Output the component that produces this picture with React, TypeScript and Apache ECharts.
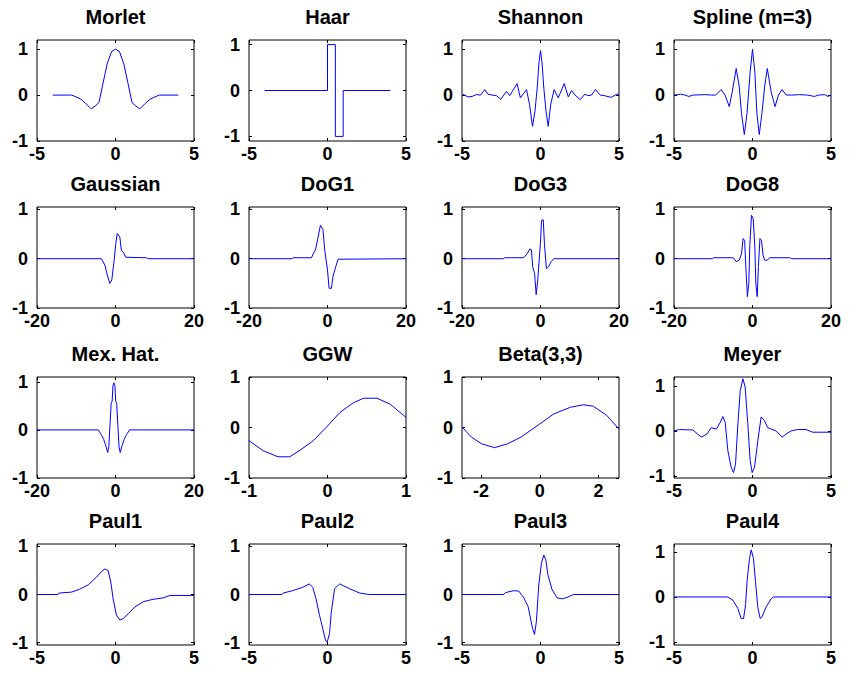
import React, { useEffect, useRef } from 'react';
import * as echarts from 'echarts';

const titles = ['Morlet', 'Haar', 'Shannon', 'Spline (m=3)', 'Gaussian', 'DoG1', 'DoG3', 'DoG8', 'Mex. Hat.', 'GGW', 'Beta(3,3)', 'Meyer', 'Paul1', 'Paul2', 'Paul3', 'Paul4'];
const xMins = [-5, -5, -5, -5, -20, -20, -20, -20, -20, -1, -2.65, -5, -5, -5, -5, -5];
const xMaxs = [5, 5, 5, 5, 20, 20, 20, 20, 20, 1, 2.7, 5, 5, 5, 5, 5];
const xTicks = [
  [-5, 0, 5], [-5, 0, 5], [-5, 0, 5], [-5, 0, 5],
  [-20, 0, 20], [-20, 0, 20], [-20, 0, 20], [-20, 0, 20],
  [-20, 0, 20], [-1, 0, 1], [-2, 0, 2], [-5, 0, 5],
  [-5, 0, 5], [-5, 0, 5], [-5, 0, 5], [-5, 0, 5],
];
const yMins = [-1, -1.1, -1, -1, -1, -1, -1, -1, -1, -1, -1, -1.05, -1.05, -1.05, -1.05, -1.07];
const yMaxs = [1.2, 1.1, 1.2, 1.2, 1.05, 1.05, 1.05, 1.05, 1.1, 1, 1, 1.2, 1.05, 1.05, 1.05, 1.18];
const yTicks = [-1, 0, 1];

const morlet = [[-4, 0], [-2.8, 0], [-2.5, -0.04], [-2.2, -0.09], [-1.9, -0.18], [-1.55, -0.3], [-1.3, -0.24], [-1.05, -0.16], [-0.8, 0.25], [-0.53, 0.68], [-0.25, 0.95], [0, 1.0], [0.25, 0.95], [0.53, 0.68], [0.8, 0.25], [1.05, -0.16], [1.3, -0.24], [1.55, -0.3], [1.9, -0.18], [2.2, -0.09], [2.5, -0.04], [2.8, 0], [4, 0]];
const haar = [[-4, 0], [0, 0], [0, 1], [0.5, 1], [0.5, -1], [1, -1], [1, 0], [4, 0]];
const shannon = [[-4.94, 0.02], [-4.62, -0.04], [-4.36, -0.03], [-4.09, 0.01], [-3.81, 0], [-3.55, 0.12], [-3.34, 0.02], [-3.09, 0], [-2.81, -0.01], [-2.53, -0.09], [-2.17, 0.08], [-1.96, -0.01], [-1.49, 0.25], [-1.28, -0.06], [-0.89, 0.12], [-0.7, -0.2], [-0.51, -0.68], [-0.35, -0.35], [-0.2, 0.2], [-0.1, 0.7], [0, 0.97], [0.1, 0.7], [0.2, 0.2], [0.35, -0.35], [0.49, -0.68], [0.65, -0.2], [0.87, 0.12], [1.13, -0.06], [1.51, 0.25], [1.77, -0.04], [1.98, 0.1], [2.2, 0.0], [2.53, -0.1], [2.83, 0.02], [3.0, -0.01], [3.25, 0.0], [3.5, 0.12], [3.8, 0.0], [4.05, -0.01], [4.5, -0.05], [4.85, 0.02], [5, 0.02]];
const spline = [[-5, 0.0], [-4.6, 0.02], [-4.3, 0.0], [-4.05, -0.03], [-3.8, 0.0], [-3, 0.01], [-2.6, 0.0], [-2.35, 0.0], [-2.0, 0.12], [-1.75, 0.0], [-1.48, -0.25], [-1.3, 0.05], [-1.04, 0.58], [-0.85, 0.2], [-0.7, -0.4], [-0.52, -0.86], [-0.35, -0.4], [-0.15, 0.5], [0, 1.0], [0.15, 0.5], [0.28, -0.4], [0.43, -0.86], [0.6, -0.4], [0.78, 0.2], [0.94, 0.58], [1.2, 0.05], [1.44, -0.25], [1.65, 0.0], [1.88, 0.12], [2.15, 0.0], [2.5, 0.0], [3, 0.01], [3.5, 0.0], [3.95, -0.03], [4.2, 0.0], [4.6, 0.01], [4.8, -0.03], [5, 0.0]];
const gaussian = [[-20, 0], [-3.6, 0], [-2.7, -0.13], [-2.1, -0.33], [-1.45, -0.5], [-0.94, -0.43], [-0.34, -0.03], [0.08, 0.31], [0.43, 0.51], [1.1, 0.44], [1.5, 0.17], [2.1, 0.12], [2.6, 0.03], [7.9, 0.02], [8.2, 0], [20, 0]];
const dog1 = [[-20, 0], [-9, 0], [-8.8, 0.02], [-4.1, 0.02], [-3.0, 0.2], [-2.4, 0.44], [-1.8, 0.68], [-1.15, 0.59], [-0.7, 0.17], [0, -0.23], [0.4, -0.6], [1.0, -0.6], [1.4, -0.36], [2.1, -0.16], [2.7, -0.01], [20, 0]];
const dog3 = [[-20, 0], [-9.4, 0], [-9.2, 0.02], [-4.3, 0.02], [-3.4, 0.1], [-2.7, 0.2], [-2.3, 0.18], [-2.0, -0.16], [-1.5, -0.3], [-1.1, -0.73], [-0.7, -0.43], [-0.4, -0.09], [0, 0.34], [0.26, 0.78], [0.7, 0.79], [1.0, 0.31], [1.5, -0.2], [2.1, -0.16], [2.7, -0.06], [3.4, 0], [20, 0]];
const dog8 = [[-20, 0], [-10.2, 0], [-10, 0.02], [-4.9, 0.02], [-4.1, -0.06], [-3.4, -0.03], [-2.8, 0.1], [-2.4, 0.41], [-2.0, 0.37], [-1.7, -0.16], [-1.3, -0.77], [-0.94, -0.5], [-0.7, 0.24], [-0.26, 0.88], [0.17, 0.82], [0.6, 0.24], [0.85, -0.5], [1.2, -0.77], [1.5, -0.16], [1.9, 0.41], [2.3, 0.37], [2.7, 0.07], [3.1, -0.03], [3.7, -0.03], [4.4, 0.02], [9.5, 0.02], [10, 0], [20, 0]];
const mexHat = [[-20, 0], [-4.4, 0], [-3.6, -0.1], [-3.0, -0.2], [-2.5, -0.32], [-2.0, -0.47], [-1.7, -0.35], [-1.4, 0.1], [-1.1, 0.55], [-0.85, 0.6], [-0.65, 0.92], [-0.4, 0.98], [-0.15, 0.92], [0.05, 0.6], [0.3, 0.55], [0.6, 0.1], [0.9, -0.35], [1.2, -0.47], [1.7, -0.32], [2.2, -0.2], [2.8, -0.1], [3.6, 0], [20, 0]];
const ggw = [[-1, -0.26], [-0.82, -0.46], [-0.63, -0.58], [-0.48, -0.58], [-0.35, -0.45], [-0.18, -0.26], [0, 0.03], [0.16, 0.3], [0.33, 0.49], [0.46, 0.58], [0.63, 0.58], [0.8, 0.46], [1, 0.2]];
const beta33 = [[-2.65, 0.01], [-2.33, -0.19], [-1.99, -0.32], [-1.54, -0.4], [-1.09, -0.32], [-0.64, -0.19], [0, 0.07], [0.48, 0.27], [1.04, 0.4], [1.49, 0.45], [1.83, 0.42], [2.28, 0.24], [2.7, -0.03]];
const meyer = [[-5, 0], [-4.64, 0.03], [-3.8, 0.02], [-3.26, -0.14], [-2.9, -0.07], [-2.63, 0.07], [-2.3, 0.04], [-2.05, 0.19], [-1.89, 0.32], [-1.74, 0.19], [-1.57, -0.44], [-1.36, -0.81], [-1.21, -0.93], [-1.08, -0.74], [-0.93, 0.16], [-0.78, 0.9], [-0.61, 1.16], [-0.47, 0.98], [-0.3, 0.16], [-0.15, -0.66], [-0.02, -0.93], [0.13, -0.81], [0.34, -0.22], [0.55, 0.31], [0.76, 0.23], [0.97, 0.07], [1.19, 0.04], [1.5, 0], [1.89, -0.14], [2.14, -0.07], [2.46, 0], [2.88, 0.03], [3.41, 0.03], [3.83, -0.03], [5, -0.03]];
const paul1 = [[-5, 0], [-3.66, 0], [-3.6, 0.03], [-2.8, 0.05], [-2.28, 0.11], [-1.74, 0.2], [-1.21, 0.36], [-0.89, 0.48], [-0.68, 0.53], [-0.47, 0.5], [-0.3, 0.26], [-0.15, -0.09], [0.06, -0.43], [0.28, -0.53], [0.49, -0.5], [0.81, -0.4], [1.23, -0.26], [1.77, -0.15], [2.4, -0.1], [3.04, -0.07], [3.47, -0.02], [5, -0.02]];
const paul2 = [[-5, 0], [-2.9, 0], [-2.82, 0.03], [-2.22, 0.08], [-1.58, 0.15], [-1.15, 0.22], [-0.94, 0.15], [-0.73, -0.09], [-0.51, -0.43], [-0.3, -0.71], [-0.13, -0.95], [-0.02, -0.99], [0.13, -0.81], [0.24, -0.37], [0.45, 0.12], [0.77, 0.22], [1.41, 0.12], [2.05, 0.03], [2.65, 0], [5, 0]];
const paul3 = [[-5, 0], [-2.34, 0], [-2.23, 0.04], [-1.7, 0.08], [-1.38, 0.07], [-1.06, -0.07], [-0.79, -0.25], [-0.64, -0.49], [-0.51, -0.7], [-0.38, -0.83], [-0.26, -0.56], [-0.11, 0.2], [0.06, 0.65], [0.21, 0.82], [0.34, 0.72], [0.47, 0.41], [0.74, 0.1], [1.06, -0.07], [1.38, -0.09], [1.7, -0.06], [2.09, 0], [5, 0]];
const paul4 = [[-5, 0], [-1.57, 0], [-1.25, -0.07], [-0.93, -0.26], [-0.72, -0.48], [-0.57, -0.48], [-0.44, -0.17], [-0.34, 0.38], [-0.19, 0.86], [-0.08, 1.05], [0.06, 0.86], [0.19, 0.35], [0.34, -0.24], [0.49, -0.48], [0.61, -0.44], [0.87, -0.22], [1.19, -0.04], [1.33, 0], [5, 0]];

const curves = [morlet, haar, shannon, spline, gaussian, dog1, dog3, dog8, mexHat, ggw, beta33, meyer, paul1, paul2, paul3, paul4];

const lefts = [37, 249, 462, 674];
const tops = [40, 207, 377, 544];
const W = 157;
const H = 101;
const FONT = '"Liberation Sans", Arial, sans-serif';

export default function App() {
  const ref = useRef<HTMLDivElement>(null);
  useEffect(() => {
    const chart = echarts.init(ref.current!, null, { renderer: 'svg' });
    const grid: any[] = [];
    const xAxis: any[] = [];
    const yAxis: any[] = [];
    const series: any[] = [];
    const graphic: any[] = [];
    const tick = (vals: number[]) => ({ show: true, inside: true, length: 3, customValues: vals, lineStyle: { color: '#000', width: 1 } });
    const noLine = { show: false, onZero: false };
    curves.forEach((data, i) => {
      const r = Math.floor(i / 4);
      const c = i % 4;
      grid.push({ left: lefts[c], top: tops[r], width: W, height: H, show: true, borderColor: '#000', borderWidth: 1, backgroundColor: '#fff', containLabel: false });
      const lbl = { fontSize: 18, fontWeight: 'bold', color: '#000', fontFamily: FONT };
      xAxis.push({ type: 'value', gridIndex: i, position: 'bottom', min: xMins[i], max: xMaxs[i], axisLine: noLine, splitLine: { show: false }, axisTick: tick(xTicks[i]), axisLabel: { ...lbl, customValues: xTicks[i], margin: 4 } });
      xAxis.push({ type: 'value', gridIndex: i, position: 'top', min: xMins[i], max: xMaxs[i], axisLine: noLine, splitLine: { show: false }, axisTick: tick(xTicks[i]), axisLabel: { show: false } });
      yAxis.push({ type: 'value', gridIndex: i, position: 'left', min: yMins[i], max: yMaxs[i], axisLine: noLine, splitLine: { show: false }, axisTick: tick(yTicks), axisLabel: { ...lbl, customValues: yTicks, margin: 9 } });
      yAxis.push({ type: 'value', gridIndex: i, position: 'right', min: yMins[i], max: yMaxs[i], axisLine: noLine, splitLine: { show: false }, axisTick: tick(yTicks), axisLabel: { show: false } });
      series.push({ type: 'line', xAxisIndex: 2 * i, yAxisIndex: 2 * i, data, showSymbol: false, symbol: 'none', lineStyle: { color: '#0000ff', width: 1 }, silent: true, clip: true });
      graphic.push({ type: 'text', x: lefts[c] + W / 2, y: tops[r] - 23, style: { text: titles[i], fontSize: 20, fontWeight: 'bold', fontFamily: FONT, fill: '#000', align: 'center', verticalAlign: 'middle' } });
    });
    chart.setOption({ animation: false, backgroundColor: '#fff', grid, xAxis, yAxis, series, graphic });
    return () => chart.dispose();
  }, []);
  return <div ref={ref} style={{ position: 'fixed', left: 0, top: 0, width: 867, height: 674 }} />;
}
